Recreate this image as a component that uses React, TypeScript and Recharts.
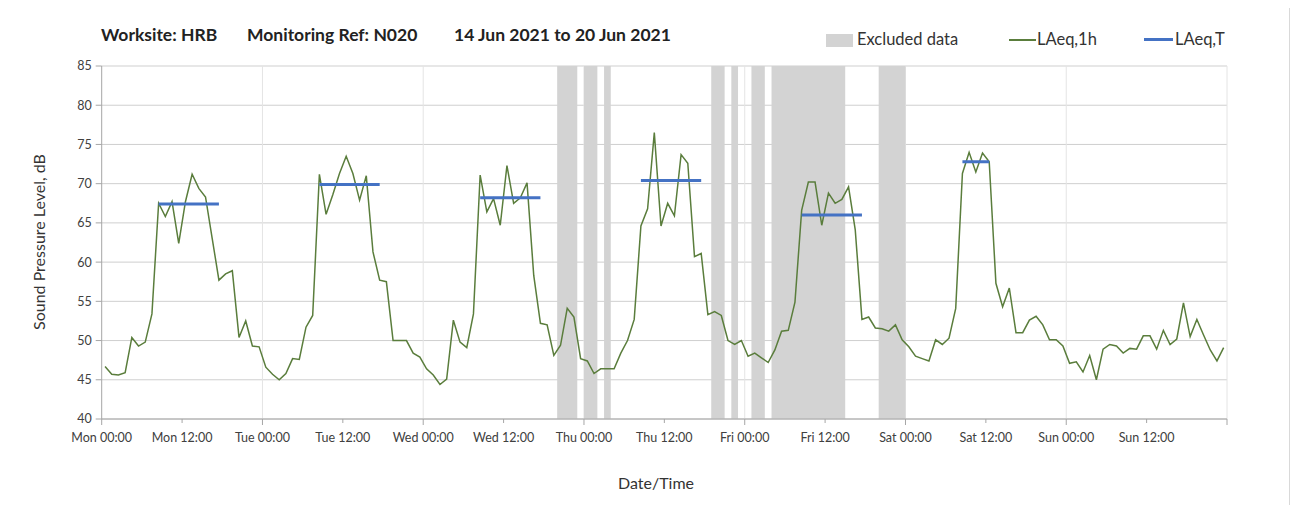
import React from 'react'
import { ComposedChart, Line, XAxis, YAxis, CartesianGrid, ReferenceArea } from 'recharts'

const FONT = 'Lato, "Open Sans", sans-serif'
const GREEN = '#5a7d3c'
const BLUE = '#4472c4'
const BAND = '#d3d3d3'

// hourly LAeq,1h per day (00:00 .. 23:00)
const MON = [46.7, 45.7, 45.6, 45.9, 50.4, 49.3, 49.8, 53.4, 67.5, 65.8, 67.7, 62.4, 67.7, 71.2, 69.4, 68.3, 63.0, 57.7, 58.5, 58.9, 50.4, 52.5, 49.3, 49.2]
const TUE = [46.6, 45.7, 45.0, 45.8, 47.7, 47.6, 51.7, 53.2, 71.2, 66.1, 68.6, 71.3, 73.5, 71.3, 67.9, 71.0, 61.3, 57.7, 57.5, 50.0, 50.0, 50.0, 48.4, 47.9]
const WED = [46.4, 45.6, 44.4, 45.1, 52.6, 49.8, 49.1, 53.4, 71.1, 66.4, 68.1, 64.7, 72.3, 67.5, 68.2, 70.1, 58.3, 52.2, 52.0, 48.1, 49.4, 54.1, 53.0, 47.7]
const THU = [47.4, 45.8, 46.4, 46.4, 46.4, 48.4, 50.0, 52.7, 64.6, 66.8, 76.5, 64.6, 67.5, 65.9, 73.7, 72.6, 60.7, 61.1, 53.3, 53.7, 53.2, 50.0, 49.5, 50.0]
const FRI = [48.0, 48.4, 47.8, 47.2, 48.8, 51.2, 51.3, 54.9, 66.6, 70.2, 70.2, 64.7, 68.8, 67.5, 68.0, 69.6, 64.1, 52.7, 53.0, 51.6, 51.5, 51.2, 52.0, 50.1]
const SAT = [49.2, 48.0, 47.7, 47.4, 50.1, 49.5, 50.3, 54.1, 71.3, 74.0, 71.5, 73.9, 72.8, 57.3, 54.3, 56.7, 51.0, 51.0, 52.6, 53.1, 52.0, 50.1, 50.1, 49.3]
const SUN = [47.1, 47.3, 46.0, 48.1, 45.0, 48.9, 49.5, 49.3, 48.4, 49.0, 48.9, 50.6, 50.6, 48.9, 51.3, 49.5, 50.2, 54.8, 50.5, 52.7, 50.7, 48.8, 47.4, 49.1]

// LAeq,T per day and the hours it covers (first hour, last hour from Mon 00:00)
const LAEQ_T = [67.4, 69.9, 68.2, 70.4, 66.0, 72.8]
const LAEQ_T_FROM = [8, 32, 56, 80, 104, 128]
const LAEQ_T_TO = [17, 41, 65, 89, 113, 132]

// excluded periods, hours from Mon 00:00
const EXCLUDED_FROM = [68, 72, 75, 91, 94, 97, 100, 116]
const EXCLUDED_TO = [71, 74, 76, 93, 95, 99, 111, 120]

const DAYS = ['Mon', 'Tue', 'Wed', 'Thu', 'Fri', 'Sat', 'Sun']
const X_TICKS = [0, 12, 24, 36, 48, 60, 72, 84, 96, 108, 120, 132, 144, 156, 168]
const Y_TICKS = [40, 45, 50, 55, 60, 65, 70, 75, 80, 85]

const TITLE_PARTS = ['Worksite: HRB', 'Monitoring Ref: N020', '14 Jun 2021 to 20 Jun 2021']

const hourly = [...MON, ...TUE, ...WED, ...THU, ...FRI, ...SAT, ...SUN]

const data = hourly.map((v, i) => {
  const k = LAEQ_T_FROM.findIndex((f, j) => i >= f && i <= LAEQ_T_TO[j])
  return { x: i + 0.5, laeq1h: v, laeqT: k >= 0 ? LAEQ_T[k] : null }
})

const AXIS_Y = 411

function XTick(props: any) {
  const { x, payload } = props
  const v = payload.value
  const major = v % 24 === 0
  const label = v >= 168 ? '' : `${DAYS[Math.floor(v / 24)]} ${major ? '00:00' : '12:00'}`
  return (
    <g>
      <line x1={x} x2={x} y1={AXIS_Y} y2={AXIS_Y + (major ? 6 : 4)} stroke="#a6a6a6" />
      <text x={x} y={AXIS_Y + 23} textAnchor="middle" fontSize={12.5} fill="#404040" fontFamily={FONT}>{label}</text>
    </g>
  )
}

export default function App(){
  const titleLeft = [93, 239, 446]
  return (
    <div style={{ position: 'relative', width: 1285, height: 497, fontFamily: FONT }}>
      <div style={{ position: 'absolute', left: -1, top: -6, width: 1281, height: 520, border: '1px solid #d9d9d9' }} />
      {TITLE_PARTS.map((t, i) => (
        <div key={i} style={{ position: 'absolute', left: titleLeft[i], top: 16, fontSize: 17.5, fontWeight: 700, color: '#222', whiteSpace: 'pre' }}>{t}</div>
      ))}

      <div style={{ position: 'absolute', left: 818, top: 26, width: 27, height: 13, background: BAND }} />
      <div style={{ position: 'absolute', left: 849, top: 21, fontSize: 16.5, color: '#333' }}>Excluded data</div>
      <div style={{ position: 'absolute', left: 1001, top: 31, width: 27, height: 1.5, background: GREEN }} />
      <div style={{ position: 'absolute', left: 1029, top: 21, fontSize: 16.5, color: '#333' }}>LAeq,1h</div>
      <div style={{ position: 'absolute', left: 1136, top: 30, width: 29, height: 3, background: BLUE }} />
      <div style={{ position: 'absolute', left: 1167, top: 21, fontSize: 16.5, color: '#333' }}>LAeq,T</div>

      <div style={{ position: 'absolute', left: 30, top: 234, fontSize: 16, color: '#333', transform: 'translate(-50%, -50%) rotate(-90deg)', whiteSpace: 'nowrap' }}>
        Sound Pressure Level, dB
      </div>
      <div style={{ position: 'absolute', left: 648, top: 474, fontSize: 16, color: '#333', transform: 'translate(-50%, -50%)', whiteSpace: 'nowrap' }}>
        Date/Time
      </div>

      <div style={{ position: 'absolute', left: 0, top: 0 }}>
        <ComposedChart width={1285} height={497} data={data} margin={{ top: 58, right: 66, bottom: 56, left: 53.7 }}>
          <CartesianGrid horizontal={true} vertical={false} stroke="#cfcfcf" />
          <CartesianGrid horizontal={false} vertical={true} stroke="#e4e4e4" verticalValues={[24, 48, 72, 96, 120, 144, 168]} />
          {EXCLUDED_FROM.map((f, i) => (
            <ReferenceArea key={i} x1={f} x2={EXCLUDED_TO[i]} y1={40} y2={85} fill={BAND} fillOpacity={1} stroke="none" ifOverflow="visible" />
          ))}
          <XAxis dataKey="x" type="number" domain={[0, 168]} ticks={X_TICKS} interval={0} tick={<XTick />} tickLine={false}
            axisLine={{ stroke: '#a6a6a6' }} height={30} allowDataOverflow />
          <YAxis type="number" domain={[40, 85]} ticks={Y_TICKS} interval={0} width={40} tickSize={6} tickMargin={4}
            axisLine={{ stroke: '#a6a6a6' }} tickLine={{ stroke: '#a6a6a6' }}
            tick={{ fontSize: 12.5, fill: '#404040', fontFamily: FONT }} allowDataOverflow />
          <Line dataKey="laeq1h" stroke={GREEN} strokeWidth={1.5} dot={false} isAnimationActive={false} />
          <Line dataKey="laeqT" stroke={BLUE} strokeWidth={3} dot={false} isAnimationActive={false} connectNulls={false} />
        </ComposedChart>
      </div>
    </div>
  )
}
